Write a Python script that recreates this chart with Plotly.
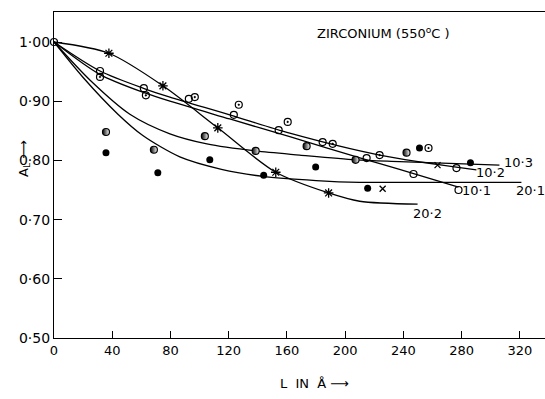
import plotly.graph_objects as go

# ---------------- data ----------------
# smooth curves
L_10_1 = [0, 31.6, 62.4, 79.6, 120.7, 161.9, 214.7, 237.3, 277.8]
A_10_1 = [1.0, 0.945, 0.914, 0.900, 0.870, 0.840, 0.801, 0.785, 0.755]
L_10_2 = [0, 31.6, 62.4, 79.6, 120.7, 161.9, 223.6, 290.1]
A_10_2 = [1.0, 0.951, 0.921, 0.907, 0.877, 0.846, 0.809, 0.784]
L_10_3 = [0, 25.0, 52.1, 79.6, 105.0, 138.5, 168.7, 207.1, 237.3, 305.9]
A_10_3 = [1.0, 0.935, 0.878, 0.845, 0.828, 0.816, 0.809, 0.801, 0.798, 0.792]
L_20_1 = [0, 20.0, 43.9, 61.0, 86.4, 115.0, 143.3, 180.0, 209.9, 264.7, 321.0]
A_20_1 = [1.0, 0.940, 0.878, 0.842, 0.806, 0.785, 0.773, 0.766, 0.763, 0.763, 0.763]
L_20_2 = [0, 37.7, 74.8, 112.5, 152.3, 188.6, 209.9, 249.7]
A_20_2 = [1.0, 0.981, 0.926, 0.855, 0.780, 0.745, 0.731, 0.726]

# experimental points
L_open = [0, 31.6, 61.7, 92.6, 123.5, 154.3, 184.5, 214.7, 246.9, 276.4, 277.8]
A_open = [1.0, 0.951, 0.922, 0.904, 0.877, 0.851, 0.831, 0.804, 0.777, 0.787, 0.750]
L_dot = [31.6, 63.1, 96.7, 126.9, 160.5, 191.4, 223.6, 257.2]
A_dot = [0.941, 0.910, 0.907, 0.894, 0.865, 0.828, 0.809, 0.821]
L_half = [35.7, 68.6, 103.6, 138.5, 173.5, 207.1, 242.1]
A_half = [0.848, 0.818, 0.841, 0.816, 0.824, 0.801, 0.813]
L_full = [35.7, 71.3, 107.0, 144.0, 179.7, 215.4, 251.0, 286.0]
A_full = [0.813, 0.779, 0.801, 0.775, 0.789, 0.753, 0.821, 0.796]
L_star = [37.7, 74.8, 112.5, 152.3, 188.6]
A_star = [0.981, 0.926, 0.855, 0.780, 0.745]
L_cross = [225.7, 263.4]
A_cross = [0.752, 0.792]

x_ticks = [0, 40, 80, 120, 160, 200, 240, 280, 320]
y_ticks = [0.5, 0.6, 0.7, 0.8, 0.9, 1.0]
y_ticktext = ["0·50", "0·60", "0·70", "0·80", "0·90", "1·00"]

curve_labels = ["10·3", "10·2", "10·1", "20·1", "20·2"]
label_L = [318.9, 299.7, 290.1, 327.5, 256.5]
label_A = [0.796, 0.780, 0.750, 0.750, 0.711]

FONT = "DejaVu Sans"

fig = go.Figure()

for Lc, Ac in [(L_10_1, A_10_1), (L_10_2, A_10_2), (L_10_3, A_10_3),
               (L_20_1, A_20_1), (L_20_2, A_20_2)]:
    fig.add_trace(go.Scatter(x=Lc, y=Ac, mode="lines",
                             line=dict(color="black", width=1.3, shape="spline", smoothing=0.8),
                             hoverinfo="skip", showlegend=False))

mk = dict(mode="markers", showlegend=False, cliponaxis=False)
fig.add_trace(go.Scatter(x=L_open, y=A_open, marker=dict(symbol="circle-open", size=7,
                         color="black", line=dict(width=1.2)), **mk))
fig.add_trace(go.Scatter(x=L_dot, y=A_dot, marker=dict(symbol="circle-open-dot", size=7,
                         color="black", line=dict(width=1.2)), **mk))
fig.add_trace(go.Scatter(x=L_half, y=A_half, marker=dict(symbol="circle", size=7,
                         color="black", gradient=dict(type="horizontal", color="white"),
                         line=dict(width=1.2, color="black")), **mk))
fig.add_trace(go.Scatter(x=L_full, y=A_full, marker=dict(symbol="circle", size=7,
                         color="black"), **mk))
fig.add_trace(go.Scatter(x=L_star, y=A_star, marker=dict(symbol="asterisk-open", size=8,
                         color="black", line=dict(width=1.3)), **mk))
fig.add_trace(go.Scatter(x=L_cross, y=A_cross, marker=dict(symbol="x-thin-open", size=6,
                         color="black", line=dict(width=1.3)), **mk))

for t, xl, yl in zip(curve_labels, label_L, label_A):
    fig.add_annotation(x=xl, y=yl, text=t, showarrow=False,
                       font=dict(family=FONT, size=13, color="black"))

fig.add_annotation(x=226.3, y=1.015, text="ZIRCONIUM (550<sup>o</sup>C )", showarrow=False,
                   font=dict(family=FONT, size=13, color="black"))
fig.add_annotation(xref="paper", yref="paper", x=-0.082, y=0.55,
                   text="A<sub>L</sub> ⟶", textangle=-90, showarrow=False,
                   font=dict(family=FONT, size=13, color="black"))
fig.add_annotation(xref="paper", yref="paper", x=0.53, y=-0.17,
                   text="L  IN  Å ⟶", showarrow=False,
                   font=dict(family=FONT, size=13, color="black"))

fig.update_xaxes(range=[0, 337.2], tickvals=x_ticks, ticktext=[str(v) for v in x_ticks],
                 ticks="inside", ticklen=7, tickwidth=1.2, tickcolor="black",
                 showline=True, linecolor="black", linewidth=1.3, mirror=True,
                 showgrid=False, zeroline=False,
                 tickfont=dict(family=FONT, size=13, color="black"))
fig.update_yaxes(range=[0.5, 1.0507], tickvals=y_ticks, ticktext=y_ticktext,
                 ticks="inside", ticklen=8, tickwidth=1.2, tickcolor="black",
                 showline=True, linecolor="black", linewidth=1.3,
                 showgrid=False, zeroline=False,
                 tickfont=dict(family=FONT, size=14, color="black"))

fig.update_layout(width=545, height=399, margin=dict(l=54, r=0, t=12, b=61),
                  plot_bgcolor="white", paper_bgcolor="white")

fig.write_html("out.html")
